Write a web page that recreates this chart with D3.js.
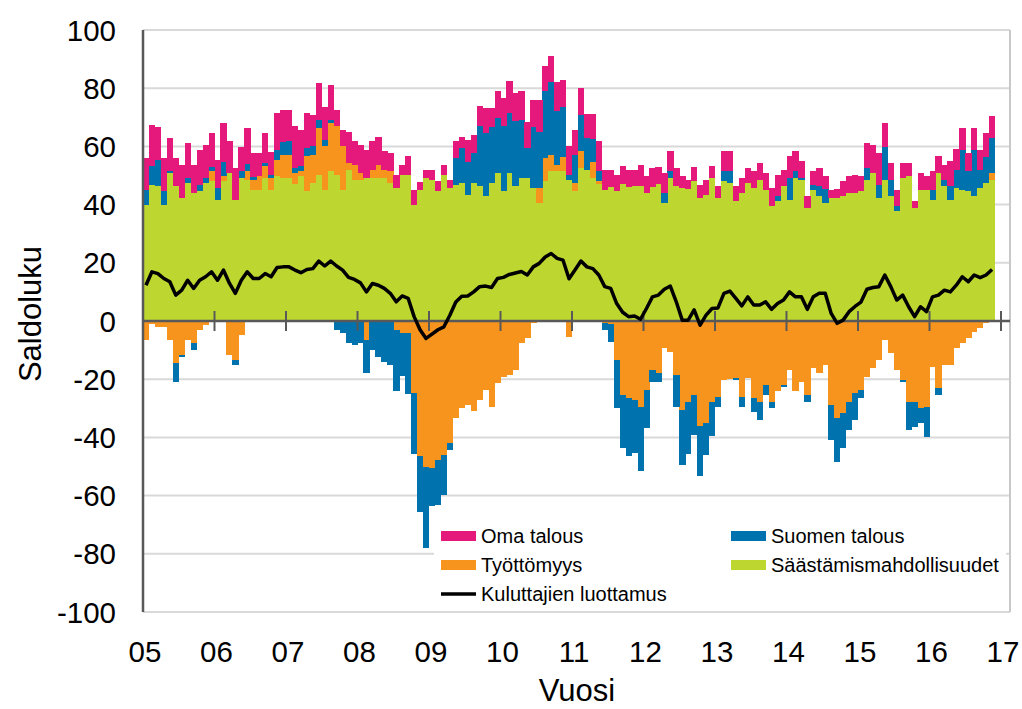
<!DOCTYPE html>
<html>
<head>
<meta charset="utf-8">
<title>Kuluttajien luottamus</title>
<script src="https://d3js.org/d3.v7.min.js"></script>
<style>
body { margin: 0; background: #fff; }
svg { font-family: 'Liberation Sans', Arial, sans-serif; }
</style>
</head>
<body>
<script>
// monthly balance figures Jan 2005 - Nov 2016
const saastaminen = [
  40, 46.9, 46.3, 40, 50.9, 46.3, 42.3, 47.4, 44, 44.6, 47.4, 48,
  41.7, 48, 50.9, 41.7, 49.1, 48.6, 45.1, 45.1, 49.1, 45.1, 49.7, 49,
  49.1, 47, 49.7, 44.6, 47.4, 50.3, 45.1, 51.4, 50.3, 45.1, 52, 48.6,
  48.6, 49.1, 49.1, 49.1, 49.1, 47.4, 45.7, 50.3, 50.3, 40, 45.1, 49.1,
  48.6, 44.6, 50.3, 45.7, 46.9, 47.4, 43.4, 47.4, 46.3, 42.9, 47.4, 50.9,
  44.6, 50.9, 46.3, 49.1, 49.1, 45.7, 40.6, 48, 51.4, 51.4, 51.4, 48.6,
  44.6, 52.6, 52, 49, 47, 45, 46, 44.6, 47, 46, 46.3, 46.3,
  44, 46, 47, 40.6, 49.1, 46.3, 45.7, 45.5, 48, 42.3, 43.4, 49.1,
  42.3, 48, 47.4, 41.1, 44, 47.4, 45.7, 48.6, 45.1, 39.4, 41.1, 46.3,
  41.7, 49.1, 48.6, 38.9, 45.1, 42.9, 40.6, 42.3, 42.3, 42.9, 44, 44,
  44.6, 48.6, 50.9, 42.3, 48.6, 42.9, 37.7, 49.1, 49.7, 38.9, 45.1, 45.1,
  41.7, 50.9, 46.3, 41.7, 45.7, 45.1, 44.6, 42.9, 45.7, 47.4, 48.6
]
const tyottomyys = [
  -6.5, -1, -2, -2, -6.5, -14.5, -11.7, -6.5, -7.7, -3, -1.4, 3.4,
  0, 1.7, -11.7, -13.4, -4.8, 2.9, 3.4, 4.6, 4, 4, 5.7, 8,
  8, 4, 1.7, 12, 9.7, 16, 14.9, 16.6, 16.6, 14.9, 2.3, 5.1,
  2.3, -6.5, 2.9, 4.6, 2.9, 4, -3, -4, -4, -24.8, -46.5, -50,
  -50.5, -47.7, -46, -42, -33.4, -30, -28.8, -31, -27, -23.7, -29.4, -21.4,
  -19.1, -18.5, -16.8, -7.7, -5.9, -0.8, 5.1, 8, 5.7, 2.3, 5.1, -5.4,
  2.9, 5.7, 0, 5.7, 1.1, -0.8, -1, -13.4, -25.4, -26.5, -27, -29.4,
  -23.7, -17, -18, -9.4, -10.5, -18.5, -30.5, -28, -25.4, -36.2, -35, -28,
  -26, -20.2, -20, -19.7, -26, -19.7, -26.5, -27.7, -22, -27.7, -24.2, -22,
  -16.8, -24.2, -20.8, -25.4, -16.2, -18, -15.1, -28.8, -33.4, -31.7, -27.7, -24.8,
  -23.7, -19.1, -16.2, -13.4, -6.5, -11.1, -16.8, -20.2, -27.7, -27.7, -30, -29.4,
  -15.7, -23, -15.1, -15.1, -9.4, -7.7, -5.9, -3.7, -2.5, -0.8, 2.3
]
const suomenTalous = [
  5.1, 6.3, 9.1, 4.6, 0.5, -6.3, -0.6, 1.7, -2.3, 2.3, 1.7, 1.4,
  4, 5.1, 0, -1.7, 2.3, 2.3, 1.1, 0, 1.1, 1.1, 3.4, 4.6,
  4.6, 1.5, 1.7, 2.9, 2.9, 2.9, 2.3, 1.1, -3, -4, -7.7, -8.2,
  -7.7, -11.4, -10, -12.2, -14, -15, -21, -15, -21, -21, -19, -28,
  -13.1, -15.4, -13.7, -2.3, 9.1, 12, 11.4, 10.3, 20.6, 21.7, 19.4, 18.9,
  22.3, 20.6, 22.3, 20, 10.3, 21, 19.4, 22.9, 25, 18.3, 17.1, 1.7,
  9.7, 12.6, 11, 8, 3.4, -2.3, -6.3, -16.6, -18.3, -20, -18.3, -22.3,
  -13.1, -4, -2.9, 3.4, 2.3, -10.9, -18.9, -17.7, -13.7, -17.1, -10.9, -11.4,
  -3.4, 3.4, 4, -0.6, -3.4, 0, -4.6, -6.3, -3.4, -2.3, 1.7, -0.6,
  7.4, 2.3, 0.6, -2.3, 1.7, 3.4, 4.6, -12, -14.9, -12, -9.7, -9.1,
  -2.9, 4, 0, 4.6, 11.1, 5.7, 1.7, -0.6, -9.7, -8.6, -5.1, -10.3,
  3.4, -2.3, 2.3, 4.6, 6.3, 13.7, 6.9, 16, 6.3, 9.1, 12
]
const omaTalous = [
  10.9, 14.3, 11.4, 11.4, 11.4, 9.7, 11.4, 12, 9.7, 11.7, 11.4, 11.8,
  9.7, 13.1, 11.1, 10.9, 8.3, 12.6, 8, 8, 10.3, 8, 12.6, 10.9,
  10.9, 14.4, 12.6, 11.9, 10.9, 12.6, 11.4, 12, 5.7, 5.7, 10.8, 8,
  9.7, 9.7, 9.7, 9.7, 6.3, 6.3, 4.6, 3.4, 6.3, 5, 2.7, 2.9,
  3.4, 3.4, 3.4, 2.9, 5.7, 4, 7.4, 6.3, 6.9, 8.6, 6.3, 9.1,
  9.7, 11.1, 9.7, 9.9, 9.1, 9.1, 10.9, 8.6, 9.1, 10.3, 9.1, 9.7,
  8.6, 9, 8, 8.6, 10.3, 7, 6, 5.7, 6.1, 6, 5.7, 7.2,
  5.7, 6.6, 5.8, 6.9, 6.9, 6.3, 4, 3, 4.8, 4.3, 5.2, 4,
  4, 7.1, 7, 5.2, 5.1, 5.2, 5.7, 5.7, 5.8, 6.3, 7.5, 5.7,
  7.5, 6.9, 5.7, 4, 4.6, 6.3, 4.5, 2.8, 2.9, 5.1, 5.7, 6.3,
  5.1, 8.5, 9.7, 10.9, 8.3, 5.7, 5.7, 5.2, 4.6, 2.2, 5.8, 4.6,
  6.3, 5.7, 5.1, 8.6, 7.2, 7.4, 6.3, 7.4, 6.9, 8.1, 7.4
]
const luottamus = [
  12.3, 16.9, 16.3, 14.6, 13.5, 8.9, 10.6, 14, 11.2, 14, 15.2, 16.9,
  14, 17.5, 13, 9.5, 14, 16.9, 14.6, 14.6, 16.3, 15.2, 18.4, 18.6,
  18.6, 17.5, 16.6, 17.7, 18, 20.6, 18.9, 20.6, 18.9, 17.5, 15, 14.3,
  13.1, 10, 12.9, 12.3, 11.2, 9.5, 6.6, 8.6, 7.8, 1.5, -3, -6,
  -4.5, -3, -2, 2, 6.5, 8.5, 8.6, 10, 11.8, 12, 11.5, 14.6,
  15, 16, 16.5, 17, 15.8, 18.6, 19.8, 22, 23.2, 21.5, 20.9, 14.5,
  17.5, 20.6, 18.6, 18, 15.8, 11.8, 11.2, 6, 3, 1.5, 1.7, 0.6,
  4.3, 8.3, 8.9, 10.9, 12, 6.6, 0.3, 0.3, 3.8, -1.4, 2, 4.3,
  4.5, 9.5, 10.3, 7.8, 5.2, 8.3, 5.5, 5.5, 6.6, 4, 6, 7.2,
  10, 8.3, 8.3, 4, 8.3, 9.5, 9.5, 2.6, -0.8, 0.3, 3.2, 5,
  6.5, 10.9, 11.5, 11.8, 15.8, 11.8, 7.2, 8.9, 4.9, 1.5, 4.9, 3.2,
  8.3, 8.9, 10.6, 10, 12.3, 15.2, 13.5, 15.8, 14.9, 15.8, 17.7
]
const yearLabels = ['05', '06', '07', '08', '09', '10', '11', '12', '13', '14', '15', '16', '17']
const yTicks = [-100, -80, -60, -40, -20, 0, 20, 40, 60, 80, 100]

const keys = ['Säästämismahdollisuudet', 'Työttömyys', 'Suomen talous', 'Oma talous']
const colors = {
  'Oma talous': '#e5187b',
  'Suomen talous': '#0073ae',
  'Työttömyys': '#f7941e',
  'Säästämismahdollisuudet': '#bed730'
}

const months = d3.range(saastaminen.length)
const table = months.map(i => ({
  i,
  'Säästämismahdollisuudet': saastaminen[i],
  'Työttömyys': tyottomyys[i],
  'Suomen talous': suomenTalous[i],
  'Oma talous': omaTalous[i]
}))

const svg = d3.select('body').append('svg')
svg.attr('width', 1022)
svg.attr('height', 709)

const left = 143
const right = 1010
const xYear = d3.scaleLinear().domain([2005, 2017]).range([left, 1001])
const x = d3.scaleBand().domain(months)
  .range([xYear(2005), xYear(2005 + months.length / 12)]).padding(0)
const y = d3.scaleLinear().domain([-100, 100]).range([612, 30])

// grid
svg.append('g').selectAll('line')
  .data(yTicks.filter(d => d !== 0)).enter()
  .append('line')
    .attr('x1', left).attr('x2', right)
    .attr('y1', d => y(d)).attr('y2', d => y(d))
    .attr('stroke', '#d9d9d9').attr('stroke-width', 2)

svg.append('line')
  .attr('x1', right).attr('x2', right)
  .attr('y1', y(100)).attr('y2', y(-100))
  .attr('stroke', '#c8c8c8').attr('stroke-width', 2)

// stacked bars
const series = d3.stack().keys(keys).offset(d3.stackOffsetDiverging)(table)

svg.append('g').selectAll('g')
  .data(series).enter()
  .append('g')
    .attr('fill', d => colors[d.key])
    .attr('shape-rendering', 'crispEdges')
  .selectAll('rect')
  .data(d => d).enter()
  .append('rect')
    .attr('x', d => x(d.data.i))
    .attr('width', x.bandwidth() + 0.3)
    .attr('y', d => y(Math.max(d[0], d[1])))
    .attr('height', d => Math.abs(y(d[0]) - y(d[1])))

// axes
svg.append('line')
  .attr('x1', left).attr('x2', right)
  .attr('y1', y(0)).attr('y2', y(0))
  .attr('stroke', '#595959').attr('stroke-width', 2.5)

svg.append('line')
  .attr('x1', left).attr('x2', left)
  .attr('y1', y(100)).attr('y2', y(-100))
  .attr('stroke', '#595959').attr('stroke-width', 2.5)

svg.append('g').selectAll('line')
  .data(yearLabels.slice(1)).enter()
  .append('line')
    .attr('x1', (d, i) => xYear(2006 + i)).attr('x2', (d, i) => xYear(2006 + i))
    .attr('y1', y(0) - 10).attr('y2', y(0) + 10)
    .attr('stroke', '#595959').attr('stroke-width', 2)

svg.append('g').selectAll('text')
  .data(yTicks).enter()
  .append('text')
    .attr('x', 116).attr('y', d => y(d))
    .attr('dy', '0.36em')
    .attr('text-anchor', 'end')
    .attr('font-size', 29.5)
    .text(d => d)

svg.append('g').selectAll('text')
  .data(yearLabels).enter()
  .append('text')
    .attr('x', (d, i) => xYear(2005 + i) + 2).attr('y', 651)
    .attr('dy', '0.36em')
    .attr('text-anchor', 'middle')
    .attr('font-size', 29.5)
    .text(d => d)

svg.append('text')
  .attr('x', 577).attr('y', 690)
  .attr('dy', '0.36em')
  .attr('text-anchor', 'middle')
  .attr('font-size', 31)
  .text('Vuosi')

svg.append('text')
  .attr('transform', 'translate(30, 314) rotate(-90)')
  .attr('dy', '0.36em')
  .attr('text-anchor', 'middle')
  .attr('font-size', 31)
  .text('Saldoluku')

// consumer confidence line
const line = d3.line()
  .x((d, i) => x(i) + x.bandwidth() / 2)
  .y(d => y(d))

svg.append('path')
  .datum(luottamus)
  .attr('fill', 'none')
  .attr('stroke', '#000')
  .attr('stroke-width', 3.5)
  .attr('stroke-linejoin', 'round')
  .attr('d', line)

// legend
const legend = svg.append('g')
legend.append('rect')
  .attr('x', 434).attr('y', 518)
  .attr('width', 572).attr('height', 90)
  .attr('fill', '#fff')

const legendItems = [
  { key: 'Oma talous', col: 0, row: 0 },
  { key: 'Suomen talous', col: 1, row: 0 },
  { key: 'Työttömyys', col: 0, row: 1 },
  { key: 'Säästämismahdollisuudet', col: 1, row: 1 },
  { key: 'Kuluttajien luottamus', col: 0, row: 2 }
]

const item = legend.selectAll('.item')
  .data(legendItems).enter()
  .append('g')
    .attr('class', 'item')
    .attr('transform', d => `translate(${441 + d.col * 290}, ${536 + d.row * 29})`)

item.append('rect')
  .attr('x', 0).attr('y', d => d.key === 'Kuluttajien luottamus' ? -1.75 : -5)
  .attr('width', 35)
  .attr('height', d => d.key === 'Kuluttajien luottamus' ? 3.5 : 10)
  .attr('fill', d => colors[d.key] || '#000')

item.append('text')
  .attr('x', 40).attr('y', 0)
  .attr('dy', '0.36em')
  .attr('font-size', 20)
  .text(d => d.key)
</script>
</body>
</html>
